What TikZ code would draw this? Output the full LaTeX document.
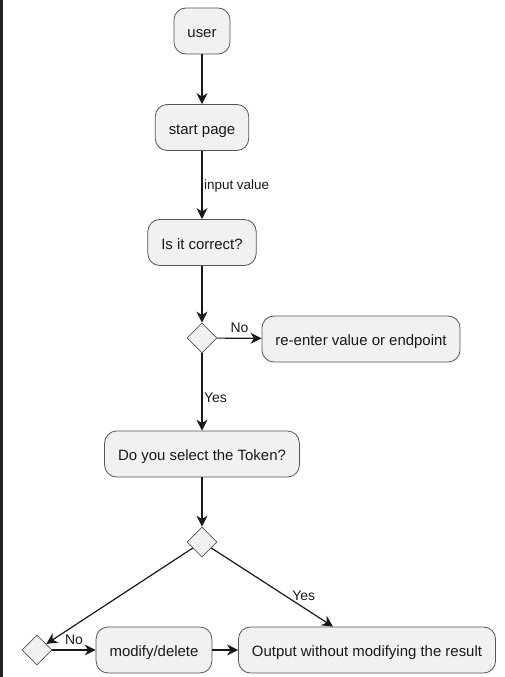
\documentclass[tikz,border=0pt]{standalone}
\usepackage{fontspec}
\setmainfont{Liberation Sans}
\usetikzlibrary{arrows.meta,shapes.geometric}
\definecolor{actfill}{HTML}{F1F1F1}
\definecolor{actline}{HTML}{555555}
\definecolor{flowline}{HTML}{181818}
\definecolor{edgedark}{HTML}{222222}

\begin{document}
\begin{tikzpicture}[
        x=1bp, y=-1bp,
        every node/.style={text=flowline, font=\fontsize{15}{17}\selectfont},
        act/.style={rectangle, rounded corners=12bp, draw=actline, line width=0.8bp, fill=actfill, minimum height=46bp, inner xsep=13.5bp, text height=16bp, text depth=2.5bp},
        choice/.style={diamond, draw=actline, line width=0.8bp, fill=actfill, minimum size=30bp, inner sep=0pt},
        flow/.style={draw=flowline, line width=1.2bp, -{Stealth[length=11bp, width=11bp, inset=3.5bp]}},
        lbl/.style={font=\fontsize{14}{16}\selectfont, inner sep=1.5bp}
    ]
        \useasboundingbox (0,0) rectangle (505,677);
        \fill[edgedark] (0,0) rectangle (2.5,677);

        % Activities
        \node[act] (user) at (202,31) {user};
        \node[act] (start) at (202,127.5) {start page};
        \node[act] (check) at (202,242.5) {Is it correct?};
        \node[choice] (d1) at (202,338) {};
        \node[act] (reenter) at (361,339) {re-enter value or endpoint};
        \node[act] (token) at (202,454) {Do you select the Token?};
        \node[choice] (d2) at (202,542) {};
        \node[choice] (d3) at (37,650) {};
        \node[act] (modify) at (154,650) {modify/delete};
        \node[act] (output) at (367,650) {Output without modifying the result};

        % Flow
        \draw[flow] (user) -- (start);
        \draw[flow] (start) -- node[lbl, right, pos=0.52, font=\fontsize{13.5}{15}\selectfont] {input value} (check);
        \draw[flow] (check) -- (d1);
        \draw[flow] (d1) -- node[lbl, above=3.5bp] {No} (reenter);
        \draw[flow] (d1) -- node[lbl, right, pos=0.58] {Yes} (token);
        \draw[flow] (token) -- (d2);
        \draw[flow] (d2) -- (d3);
        \draw[flow] (d2) -- node[lbl, above=5bp, pos=0.76] {Yes} ([xshift=-34bp]output.north);
        \draw[flow] (d3) -- node[lbl, above=3.5bp] {No} (modify);
        \draw[flow] (modify) -- (output);
    \end{tikzpicture}
\end{document}
